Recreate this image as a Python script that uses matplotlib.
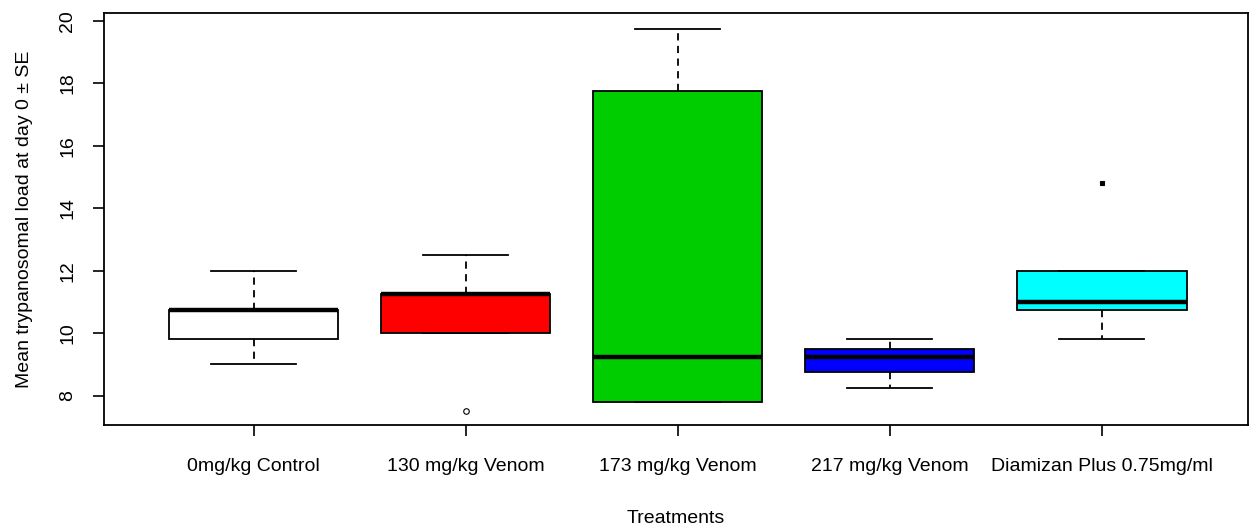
import matplotlib
matplotlib.use("Agg")
import matplotlib.pyplot as plt

# -------------------------------------------------
# DATA
# -------------------------------------------------
treatments = ["0mg/kg Control", "130 mg/kg Venom", "173 mg/kg Venom",
              "217 mg/kg Venom", "Diamizan Plus 0.75mg/ml"]
whis_low = [9.0, 10.0, 7.8, 8.25, 9.8]
q1 = [9.8, 10.0, 7.8, 8.75, 10.75]
medians = [10.75, 11.25, 9.25, 9.25, 11.0]
q3 = [10.75, 11.25, 17.75, 9.5, 12.0]
whis_high = [12.0, 12.5, 19.75, 9.8, 12.0]
outliers = [[], [7.5], [], [], [14.8]]
box_colors = ["#FFFFFF", "#FF0000", "#00CD00", "#0000FF", "#00FFFF"]

plt.rcParams["font.family"] = ["Liberation Sans", "DejaVu Sans"]

fig = plt.figure(figsize=(12.5, 5.29), dpi=100)
ax = fig.add_axes([0.0834, 0.1966, 0.9150, 0.7783])

stats = []
for i, name in enumerate(treatments):
    stats.append({
        "label": name,
        "med": medians[i],
        "q1": q1[i],
        "q3": q3[i],
        "whislo": whis_low[i],
        "whishi": whis_high[i],
        "fliers": outliers[i],
    })

parts = ax.bxp(
    stats,
    positions=range(1, len(treatments) + 1),
    widths=0.8,
    patch_artist=True,
    showfliers=True,
    boxprops=dict(edgecolor="black", linewidth=1.3),
    medianprops=dict(color="black", linewidth=3.2, solid_capstyle="butt"),
    whiskerprops=dict(color="black", linewidth=1.3, linestyle=(0, (4, 3))),
    capprops=dict(color="black", linewidth=1.3),
    capwidths=0.4,
    flierprops=dict(marker="o", markersize=4, markerfacecolor="none",
                    markeredgecolor="black", markeredgewidth=0.8),
)

for patch, col in zip(parts["boxes"], box_colors):
    patch.set_facecolor(col)

# the Diamizan outlier is drawn as a solid dot
parts["fliers"][4].set_marker("s")
parts["fliers"][4].set_markersize(3)
parts["fliers"][4].set_markerfacecolor("black")

ax.set_xlim(0.296, 5.69)
ax.set_ylim(7.06, 20.24)
ax.set_yticks([8, 10, 12, 14, 16, 18, 20])
ax.set_yticklabels(["8", "10", "12", "14", "16", "18", "20"],
                   rotation=90, va="center")

for side in ax.spines.values():
    side.set_linewidth(1.3)

ax.tick_params(axis="both", direction="out", length=8, width=1.2,
               labelsize=14, colors="black")
ax.tick_params(axis="y", pad=12)
ax.tick_params(axis="x", pad=16)

ax.set_xlabel("Treatments", fontsize=14, labelpad=25)
ax.set_ylabel("Mean trypanosomal load at day 0 \u00b1 SE", fontsize=14,
              labelpad=19)

fig.savefig("out.png", dpi=100)
